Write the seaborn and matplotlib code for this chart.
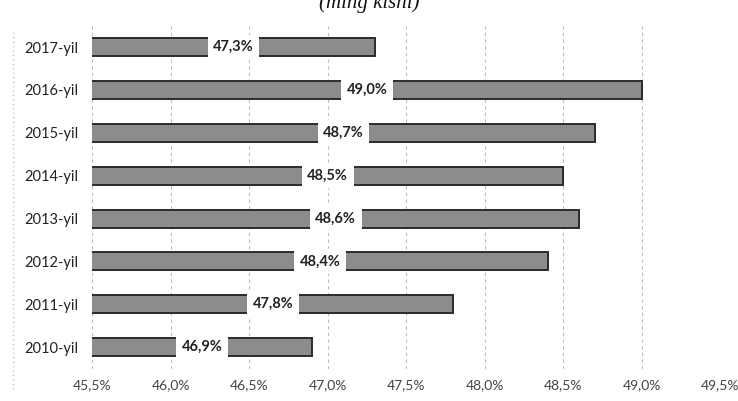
import matplotlib
matplotlib.use("Agg")
import matplotlib.pyplot as plt
import matplotlib.ticker as mticker
from matplotlib.lines import Line2D
import pandas as pd
import seaborn as sns

# chart data (top to bottom as shown)
years = ["2017-yil", "2016-yil", "2015-yil", "2014-yil",
         "2013-yil", "2012-yil", "2011-yil", "2010-yil"]
shares = [47.3, 49.0, 48.7, 48.5, 48.6, 48.4, 47.8, 46.9]
x_ticks = [45.5, 46.0, 46.5, 47.0, 47.5, 48.0, 48.5, 49.0, 49.5]

df = pd.DataFrame({"year": years, "share": shares})

sns.set_theme(style="white")
plt.rcParams["font.family"] = ["Lato", "DejaVu Sans"]

fig = plt.figure(figsize=(7.38, 4.01), dpi=100)
ax = fig.add_axes([0.125, 0.081, 0.851, 0.855])

sns.barplot(data=df, x="share", y="year", orient="h", ax=ax,
            color="#8c8c8c", edgecolor="#2b2b2b", linewidth=1.4,
            width=0.42, saturation=1)

ax.set_xlim(45.5, 49.5)
ax.set_ylim(7.5, -0.5)
ax.set_xticks(x_ticks)
ax.xaxis.set_major_formatter(
    mticker.FuncFormatter(lambda v, p: f"{v:.1f}%".replace(".", ",")))
ax.grid(axis="x", color="#bdbdbd", linestyle=(0, (3, 3)), linewidth=0.8)
ax.set_axisbelow(True)
for s in ax.spines.values():
    s.set_visible(False)
ax.set_xlabel("")
ax.set_ylabel("")
ax.tick_params(axis="x", labelsize=10, colors="#444444", pad=8, length=0)
ax.tick_params(axis="y", labelsize=10.5, colors="#222222", pad=10, length=0)

ax.bar_label(ax.containers[0],
             labels=[f"{v:.1f}%".replace(".", ",") for v in shares],
             label_type="center", fontsize=10.5, fontweight="bold",
             color="#222222",
             bbox=dict(facecolor="white", edgecolor="none", pad=4))

# title partially cut at the top of the scan
fig.text(0.5, 0.993, "(ming kishi)", ha="center", va="center",
         fontsize=15, style="italic", family="Liberation Serif",
         color="#111111")

# faint frame line on the left of the scan
fig.add_artist(Line2D([0.017, 0.017], [0.03, 0.92], transform=fig.transFigure,
                      color="#b0b0b0", linestyle=(0, (1, 3)), linewidth=0.8))

fig.savefig("out.png", dpi=100)
